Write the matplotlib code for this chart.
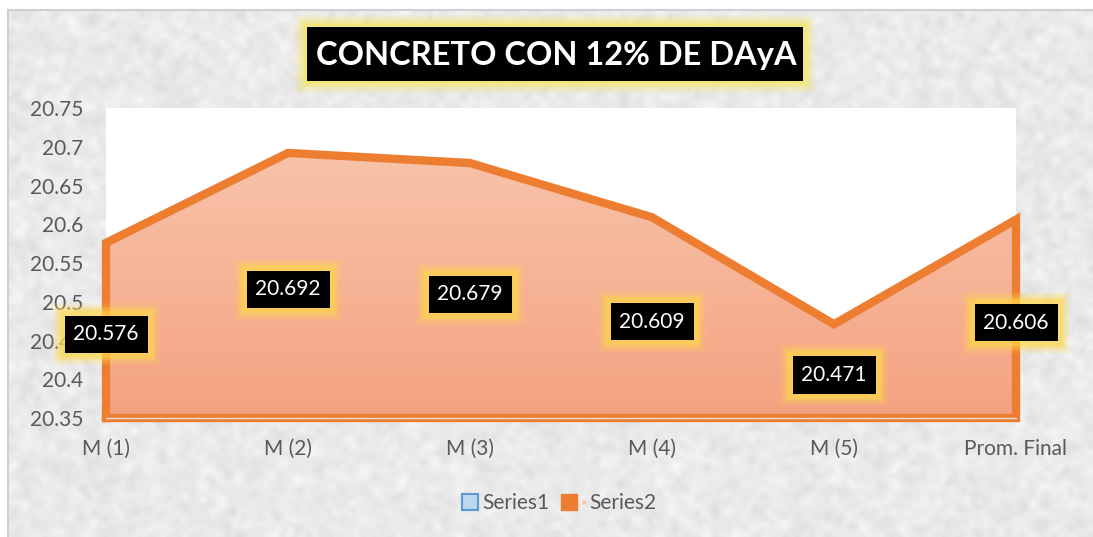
import numpy as np
import matplotlib.pyplot as plt
from matplotlib.patches import Rectangle
from matplotlib.lines import Line2D
from matplotlib.colors import LinearSegmentedColormap
from matplotlib.legend_handler import HandlerTuple

# datos
categories = ['M (1)', 'M (2)', 'M (3)', 'M (4)', 'M (5)', 'Prom. Final']
series2 = [20.576, 20.692, 20.679, 20.609, 20.471, 20.606]
y_ticks = [20.35, 20.4, 20.45, 20.5, 20.55, 20.6, 20.65, 20.7, 20.75]
y_tick_labels = ['20.35', '20.4', '20.45', '20.5', '20.55', '20.6', '20.65', '20.7', '20.75']
legend_labels = ['Series1', 'Series2']
title = 'CONCRETO CON 12% DE DAyA'
base = 20.35

plt.rcParams['font.family'] = ['Lato', 'DejaVu Sans']

W, H = 1093, 537
fig = plt.figure(figsize=(W / 100, H / 100), dpi=100)
fig.patch.set_facecolor('white')


def fx(px):
    return px / W


def fy(py):
    return 1 - py / H


# fondo tipo granito
bg = fig.add_axes([fx(8), 0, 1 - fx(8), fy(10)])
rng = np.random.default_rng(3)
noise = rng.normal(size=(150, 300))
smooth = sum(np.roll(np.roll(noise, i, 0), j, 1) for i in (-1, 0, 1) for j in (-1, 0, 1)) / 9
smooth = 0.7 * smooth + 0.3 * noise
smooth = (smooth - smooth.min()) / (smooth.max() - smooth.min())
tex = 0.84 + 0.15 * smooth
bg.imshow(tex, cmap='gray', vmin=0, vmax=1, aspect='auto', interpolation='bicubic')
bg.set_xticks([])
bg.set_yticks([])
for name, s in bg.spines.items():
    if name in ('left', 'top'):
        s.set_color('#D0D0D0')
        s.set_linewidth(1.5)
    else:
        s.set_visible(False)

# area del grafico
ax = fig.add_axes([fx(106), fy(418), fx(1016 - 106), (418 - 108) / H])
ax.set_facecolor('white')
x = np.arange(len(categories))
ax.set_xlim(0, len(categories) - 1)
for s in ax.spines.values():
    s.set_visible(False)

poly = ax.fill_between(x, series2, base, facecolor='none', edgecolor='none')
cmap = LinearSegmentedColormap.from_list('rel', ['#F4A281', '#F8C4AA'])
grad = np.linspace(0, 1, 256).reshape(-1, 1)
im = ax.imshow(grad, cmap=cmap, extent=[0, 5, base, 20.70], origin='lower',
               aspect='auto', zorder=1)
im.set_clip_path(poly.get_paths()[0], transform=ax.transData)
ax.set_ylim(base, 20.75)

xs = [0, *x, x[-1], 0]
ys = [base, *series2, base, base]
ax.plot(xs, ys, color='#ED7D31', lw=6, solid_joinstyle='miter',
        solid_capstyle='projecting', clip_on=False, zorder=3)
ax.plot([0, 5], [base, base], color='#E0E0E0', lw=1, clip_on=False, zorder=4)

ax.set_yticks(y_ticks)
ax.set_yticklabels(y_tick_labels)
ax.set_xticks(x)
ax.set_xticklabels(categories)
ax.tick_params(axis='y', length=0, labelsize=15, labelcolor='#595959', pad=16.5)
ax.tick_params(axis='x', length=0, labelsize=15, labelcolor='#595959', pad=15)

# etiquetas de datos con resplandor
for i, v in enumerate(series2):
    ypos = (v + base) / 2 - 0.005
    for pad, a in [(1.0, 0.12), (0.88, 0.2), (0.76, 0.3), (0.66, 0.45)]:
        ax.text(i, ypos, f'{v:.3f}', ha='center', va='center', fontsize=15,
                color='none', clip_on=False, zorder=5,
                bbox=dict(boxstyle=f'square,pad={pad}', fc='#FFD84A', ec='none', alpha=a))
    ax.text(i, ypos, f'{v:.3f}', ha='center', va='center', fontsize=15,
            color='white', clip_on=False, zorder=6,
            bbox=dict(boxstyle='square,pad=0.42', fc='black', ec='none'))

# titulo
for g, a in [(12, 0.15), (9, 0.25), (6, 0.4), (3, 0.6)]:
    fig.patches.append(Rectangle((fx(307 - g), fy(81 + g)), fx(496 + 2 * g), (54 + 2 * g) / H,
                                 transform=fig.transFigure, fc='#F5E66A', ec='none',
                                 alpha=a, zorder=5))
fig.patches.append(Rectangle((fx(307), fy(81)), fx(496), 54 / H, transform=fig.transFigure,
                             fc='black', ec='none', zorder=6))
fig.text(fx(556), fy(55), title, ha='center', va='center', fontsize=23.5,
         fontweight='bold', color='white', zorder=7)

# leyenda
h1 = Line2D([], [], ls='none', marker='s', ms=11, mfc='#BDD7EE', mec='#5B9BD5', mew=1.5)
h2 = (Line2D([], [], ls='none', marker='s', ms=12, mfc='#ED7D31', mec='#ED7D31'),
      Line2D([], [], ls='none', marker='s', ms=3, mfc='#F8C4AA', mec='none'))
fig.legend([h1, h2], legend_labels, loc='center', bbox_to_anchor=(fx(558), fy(503)),
           ncol=2, frameon=False, fontsize=15, labelcolor='#595959',
           handletextpad=0.1, columnspacing=0.8, handlelength=1.0,
           handler_map={tuple: HandlerTuple(ndivide=None)})

fig.savefig('out.png', dpi=100)
